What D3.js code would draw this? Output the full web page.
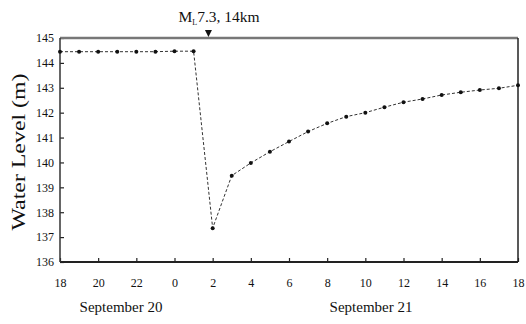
<!DOCTYPE html>
<head>
  <meta charset="utf-8">
  <style>
    body { margin: 0; background: #fff; }
    text { font-family: "Liberation Serif", "DejaVu Serif", serif; fill: #111; }
  </style>
</head>
<svg width="526" height="324"></svg>
<script src="https://d3js.org/d3.v7.min.js"></script>
<script>
  // hours after 18:00 on September 20
  const hours = [0, 1, 2, 3, 4, 5, 6, 7, 8, 9, 10, 11, 12, 13, 14, 15, 16, 17, 18, 19, 20, 21, 22, 23, 24];
  const levels = [144.45, 144.45, 144.45, 144.45, 144.45, 144.45, 144.47, 144.47,
    137.36, 139.47, 139.98, 140.43, 140.84, 141.24, 141.57, 141.84, 142.0, 142.22,
    142.42, 142.55, 142.71, 142.82, 142.91, 142.98, 143.1];
  const xTicks = [0, 2, 4, 6, 8, 10, 12, 14, 16, 18, 20, 22, 24];
  const xTickLabels = ["18", "20", "22", "0", "2", "4", "6", "8", "10", "12", "14", "16", "18"];
  const yTicks = [136, 137, 138, 139, 140, 141, 142, 143, 144, 145];
  const dayLabels = [{ name: "September 20", at: 3.2 }, { name: "September 21", at: 16.3 }];
  const quakeHour = 7.78; // 01:47
  const quakeLabel = "7.3, 14km";

  const margin = { top: 38, right: 8, bottom: 62, left: 60 },
    width = 526 - margin.left - margin.right,
    height = 324 - margin.top - margin.bottom;

  const svg = d3.select("svg");
  const g = svg.append("g").attr("transform", "translate(" + margin.left + "," + margin.top + ")");

  const x = d3.scaleLinear().domain([0, 24]).range([0, width]);
  const y = d3.scaleLinear().domain([136, 145]).range([height, 0]);

  // axes with inward ticks
  const xAxis = d3.axisBottom(x).tickValues(xTicks).tickSize(-4).tickPadding(16)
    .tickFormat(function(d, i) { return xTickLabels[i]; });
  const yAxis = d3.axisLeft(y).tickValues(yTicks).tickSize(-4).tickPadding(6)
    .tickFormat(d3.format("d"));

  const gx = g.append("g").attr("transform", "translate(0," + height + ")").call(xAxis);
  const gy = g.append("g").call(yAxis);
  [gx, gy].forEach(function(a) {
    a.attr("font-family", null);
    a.select(".domain").remove();
    a.selectAll(".tick line").attr("stroke", "#222").attr("stroke-width", 1.2);
    a.selectAll(".tick text").style("font-size", "12px").attr("fill", "#111");
  });

  // frame
  g.append("line").attr("x1", 0).attr("x2", width).attr("y1", 0).attr("y2", 0)
    .attr("stroke", "#777").attr("stroke-width", 2.5);
  g.append("line").attr("x1", 0).attr("x2", width).attr("y1", height).attr("y2", height)
    .attr("stroke", "#222").attr("stroke-width", 2);
  g.append("line").attr("x1", 0).attr("x2", 0).attr("y1", 0).attr("y2", height)
    .attr("stroke", "#333").attr("stroke-width", 1.5);
  g.append("line").attr("x1", width).attr("x2", width).attr("y1", 0).attr("y2", height)
    .attr("stroke", "#222").attr("stroke-width", 1.5);

  const data = hours.map(function(h, i) { return { h: h, v: levels[i] }; });

  g.append("path")
    .datum(data)
    .attr("fill", "none")
    .attr("stroke", "#333")
    .attr("stroke-width", 1)
    .attr("stroke-dasharray", "3,2")
    .attr("d", d3.line().x(function(d) { return x(d.h); }).y(function(d) { return y(d.v); }));

  g.selectAll("circle")
    .data(data)
    .enter().append("circle")
    .attr("cx", function(d) { return x(d.h); })
    .attr("cy", function(d) { return y(d.v); })
    .attr("r", 2)
    .attr("fill", "#111");

  // earthquake marker
  const qx = x(quakeHour);
  g.append("path")
    .attr("d", "M" + (qx - 3.5) + ",-8 L" + (qx + 3.5) + ",-8 L" + qx + ",-1 Z")
    .attr("fill", "#111");
  const title = g.append("text")
    .attr("x", qx - 30)
    .attr("y", -16)
    .attr("text-anchor", "start")
    .style("font-size", "15.5px");
  title.append("tspan").text("M");
  title.append("tspan").text("L").style("font-size", "8px").attr("dy", 3);
  title.append("tspan").text(quakeLabel).attr("dy", -3);

  // day labels
  g.selectAll(".day")
    .data(dayLabels)
    .enter().append("text")
    .attr("class", "day")
    .attr("x", function(d) { return x(d.at); })
    .attr("y", height + 50)
    .attr("text-anchor", "middle")
    .style("font-size", "15px")
    .text(function(d) { return d.name; });

  // y title
  svg.append("text")
    .attr("transform", "translate(25,152) rotate(-90)")
    .attr("text-anchor", "middle")
    .attr("textLength", 157)
    .attr("lengthAdjust", "spacingAndGlyphs")
    .style("font-size", "19px")
    .text("Water Level (m)");
</script>
